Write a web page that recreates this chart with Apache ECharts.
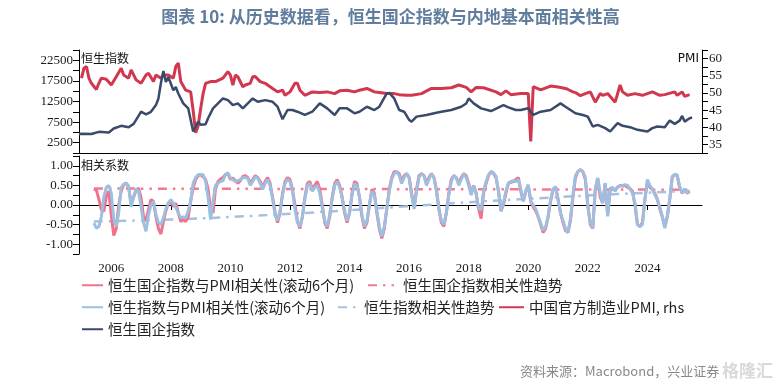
<!DOCTYPE html>
<html><head><meta charset="utf-8">
<script src="https://cdn.jsdelivr.net/npm/echarts@6/dist/echarts.min.js"></script>
<style>html,body{margin:0;padding:0;background:#fff}#c{width:781px;height:387px}</style>
</head><body><div id="c"></div>
<script>
// ---------- DATA ----------
const firstYear = 2004, firstMonthNum = 12, monthCount = 252; // 2004-12 .. 2025-11
const yearLabels = ['2006','2008','2010','2012','2014','2016','2018','2020','2022','2024'];

const hsceiMonths = ['2004-12','2005-01','2005-05','2005-08','2005-12','2006-02','2006-05','2006-08','2006-10','2006-12',
 '2007-01','2007-03','2007-05','2007-07','2007-08','2007-09','2007-10','2007-11','2007-12','2008-02',
 '2008-03','2008-04','2008-06','2008-08','2008-09','2008-10','2008-12','2009-01','2009-03','2009-04',
 '2009-06','2009-08','2009-10','2009-12','2010-02','2010-04','2010-06','2010-08','2010-10','2010-12',
 '2011-03','2011-06','2011-08','2011-10','2011-12','2012-02','2012-04','2012-07','2012-10','2013-01',
 '2013-04','2013-07','2013-09','2013-12','2014-03','2014-05','2014-08','2014-11','2015-01','2015-04',
 '2015-05','2015-07','2015-09','2015-11','2016-01','2016-02','2016-04','2016-08','2016-12','2017-02',
 '2017-06','2017-10','2017-12','2018-01','2018-03','2018-06','2018-10','2019-03','2019-05','2019-08',
 '2019-10','2020-01','2020-03','2020-06','2020-10','2021-02','2021-04','2021-06','2021-08','2021-11',
 '2022-01','2022-03','2022-05','2022-08','2022-10','2023-01','2023-03','2023-06','2023-09','2024-01',
 '2024-03','2024-05','2024-08','2024-10','2024-12','2025-02','2025-03','2025-04','2025-06','2025-07'];
const hsceiValues = [4600,4660,4600,5140,5000,5940,6590,6270,7070,9000,
 10020,9400,10000,11630,13240,17000,19880,17240,18440,15240,
 16030,14450,12040,10840,8030,5220,7620,6830,7000,8440,
 10840,12040,13240,12840,11630,12040,10840,12040,13240,12430,
 12840,12430,11230,8200,10430,10430,10020,9230,10020,12040,
 10840,9230,10840,10840,9630,10020,11230,10430,11230,14450,
 14600,13240,10430,10020,8030,7620,8830,9230,9790,10020,
 10430,11230,12000,13240,12040,10840,10190,11630,11080,10430,
 10430,10840,9230,10020,10430,12040,11230,10430,9630,9230,
 8830,6420,6830,6030,5220,7240,6590,6270,5630,5220,
 6030,6420,6270,7860,7070,7860,8990,7620,8440,8600];

const pmiMonths = ['2005-01','2005-02','2005-03','2005-04','2005-05','2005-07','2005-08','2005-09','2005-11','2006-01',
 '2006-03','2006-05','2006-06','2006-08','2006-09','2006-11','2007-01','2007-03','2007-04','2007-06',
 '2007-07','2007-09','2007-10','2007-12','2008-02','2008-03','2008-04','2008-05','2008-07','2008-09',
 '2008-10','2008-11','2008-12','2009-01','2009-02','2009-03','2009-05','2009-07','2009-10','2009-12',
 '2010-01','2010-02','2010-03','2010-04','2010-06','2010-07','2010-09','2010-10','2010-11','2011-01',
 '2011-03','2011-04','2011-06','2011-08','2011-10','2011-11','2012-01','2012-03','2012-04','2012-05',
 '2012-07','2012-10','2013-01','2013-04','2013-07','2013-09','2013-12','2014-03','2014-05','2014-08',
 '2014-11','2015-01','2015-04','2015-07','2015-09','2015-12','2016-02','2016-06','2016-10','2017-02',
 '2017-06','2017-09','2017-12','2018-02','2018-04','2018-07','2018-12','2019-02','2019-04','2019-06',
 '2019-10','2020-01','2020-02','2020-03','2020-06','2020-10','2021-01','2021-04','2021-05','2021-07',
 '2021-08','2021-10','2021-12','2022-02','2022-04','2022-06','2022-07','2022-09','2022-12','2023-01',
 '2023-02','2023-03','2023-05','2023-08','2023-11','2024-03','2024-06','2024-08','2024-12','2025-01',
 '2025-03','2025-04','2025-06'];
const pmiValues = [54.3,57.2,57.7,54.3,52.8,51.0,52.8,54.3,54.0,52.3,
 54.7,57.2,55.2,54.3,56.7,53.8,52.8,55.2,55.7,53.3,
 55.2,54.3,55.2,55.2,54.3,57.7,58.7,53.3,50.8,50.3,
 44.8,38.4,40.4,45.3,49.8,52.8,53.3,53.3,54.3,56.2,
 55.2,52.3,55.2,54.7,51.8,52.3,52.8,54.7,54.8,53.3,
 52.8,52.3,51.3,50.3,50.8,49.3,50.3,52.8,52.8,50.8,
 49.3,50.3,50.1,50.3,49.8,50.6,50.8,50.3,50.8,51.3,
 50.3,50.1,49.8,49.8,49.5,49.3,49.3,49.8,51.3,51.3,
 51.5,52.3,51.6,50.3,51.6,51.5,50.3,49.5,50.6,49.5,
 49.8,49.8,35.9,51.8,50.9,52.0,51.7,51.3,51.0,50.3,
 50.1,49.2,49.8,50.3,47.3,49.8,49.3,49.8,47.3,49.8,
 52.3,50.3,49.3,49.8,49.3,50.3,49.3,49.5,50.3,49.3,
 50.3,49.0,49.5];

// rolling 6-month correlations, monthly from corrStartMonth
const corrStartMonth = '2005-06';
const hsceiPmiCorr = [0.41,0.38,0.15,-0.12,-0.16,0.22,0.35,-0.25,-0.78,-0.6,
 0.0,0.35,0.52,0.56,0.45,0.05,0.2,0.38,0.43,0.18,
 -0.3,-0.4,-0.12,0.14,0.09,-0.3,-0.6,-0.74,-0.42,-0.15,
 0.05,0.09,-0.04,0.05,-0.2,-0.42,-0.37,-0.42,-0.3,0.1,
 0.45,0.65,0.75,0.77,0.72,0.65,0.41,-0.1,-0.2,0.41,
 0.6,0.66,0.7,0.78,0.8,0.65,0.69,0.62,0.56,0.62,
 0.73,
 0.75,0.7,0.55,0.65,0.75,0.7,0.6,0.45,0.6,0.7,
 0.55,0.2,-0.2,-0.45,-0.2,0.3,0.6,0.7,0.65,0.4,
 0.0,-0.4,-0.6,-0.3,0.2,0.55,0.6,0.4,0.5,0.6,
 0.4,0.0,-0.45,-0.6,-0.3,0.2,0.55,0.65,0.5,0.2,
 -0.2,-0.45,-0.2,0.3,0.6,0.55,0.2,-0.3,-0.6,-0.45,
 0.0,0.4,0.3,-0.2,-0.6,-0.85,-0.6,-0.1,0.4,0.7,
 0.85,0.85,0.8,0.6,0.75,0.8,0.7,0.3,-0.05,0.4,
 0.75,0.8,0.75,0.55,0.7,0.8,0.7,0.4,-0.1,-0.45,
 -0.55,-0.2,0.3,0.65,0.75,0.7,0.55,0.7,0.8,0.75,
 0.55,0.3,0.5,0.3,-0.1,
 -0.35,0.3,0.55,0.75,0.85,0.8,0.7,0.35,-0.15,0.0,
 0.3,0.55,0.58,0.6,0.65,0.7,0.35,0.1,0.35,0.5,
 0.1,-0.05,-0.15,-0.3,-0.5,-0.7,-0.6,-0.3,0.1,0.4,
 0.45,0.15,-0.2,-0.45,-0.65,-0.7,-0.4,0.2,0.7,0.85,
 0.9,0.85,0.65,0.0,-0.5,-0.6,0.4,0.68,0.2,0.05,
 0.55,-0.25,0.4,0.42,0.38,0.45,0.5,0.48,0.5,0.45,
 0.42,0.35,0.0,-0.5,-0.55,-0.45,0.15,0.6,0.45,0.4,
 0.3,0.15,-0.1,-0.3,-0.55,-0.3,0.15,0.7,0.78,0.75,
 0.45,0.3,0.4,0.3,0.35];
const hsiPmiCorr = [-0.46,-0.59,-0.55,-0.3,0.2,0.45,0.5,0.3,-0.35,-0.55,
 -0.2,0.45,0.52,0.56,0.48,-0.05,0.2,0.41,0.35,-0.05,
 -0.45,-0.67,-0.25,0.0,0.09,-0.25,-0.45,-0.5,-0.33,-0.1,
 0.05,0.14,0.05,-0.06,-0.2,-0.33,-0.3,-0.33,-0.15,0.1,
 0.56,0.7,0.77,0.78,0.77,0.6,0.2,-0.37,0.1,0.5,
 0.56,0.6,0.62,0.78,0.82,0.69,0.65,0.6,0.62,0.65,
 0.7,
 0.7,0.68,0.5,0.6,0.72,0.68,0.55,0.4,0.55,0.65,
 0.5,0.15,-0.25,-0.4,-0.15,0.25,0.55,0.65,0.6,0.35,
 -0.1,-0.45,-0.55,-0.3,0.15,0.5,0.55,0.35,0.45,0.5,
 0.3,-0.05,-0.4,-0.55,-0.25,0.15,0.5,0.6,0.45,0.2,
 -0.15,-0.4,-0.2,0.25,0.55,0.5,0.2,-0.25,-0.55,-0.4,
 0.0,0.35,0.25,-0.15,-0.55,-0.8,-0.55,-0.1,0.35,0.65,
 0.8,0.85,0.75,0.55,0.7,0.8,0.7,0.25,-0.1,0.35,
 0.7,0.8,0.75,0.5,0.65,0.8,0.7,0.35,-0.1,-0.4,
 -0.5,-0.2,0.25,0.6,0.75,0.7,0.5,0.65,0.8,0.7,
 0.5,0.25,0.5,0.3,-0.1,
 -0.12,0.35,0.6,0.77,0.86,0.82,0.73,0.35,-0.16,0.05,
 0.35,0.56,0.6,0.62,0.6,0.65,0.4,0.1,0.35,0.52,
 0.1,0.0,-0.1,-0.3,-0.45,-0.65,-0.55,-0.29,0.14,0.4,
 0.47,0.14,-0.2,-0.4,-0.6,-0.71,-0.35,0.25,0.75,0.85,
 0.9,0.85,0.7,-0.04,-0.45,-0.59,0.41,0.69,0.3,0.05,
 0.56,-0.29,0.43,0.45,0.35,0.47,0.48,0.5,0.52,0.5,
 0.41,0.3,0.05,-0.5,-0.55,-0.5,0.14,0.65,0.5,0.41,
 0.26,0.14,-0.05,-0.29,-0.59,-0.3,0.14,0.73,0.77,0.77,
 0.47,0.31,0.41,0.31,0.36];

const hsceiTrendMonths = ['2005-06','2025-07'];
const hsceiTrendValues = [0.42,0.39];
const hsiTrendMonths = ['2005-06','2008-01','2010-06','2013-01','2016-01','2018-06','2021-01','2023-01','2025-07'];
const hsiTrendValues = [-0.42,-0.37,-0.29,-0.18,-0.03,0.09,0.2,0.28,0.36];

const names = {
  hsceiCorr: '恒生国企指数与PMI相关性(滚动6个月)',
  hsceiTrend: '恒生国企指数相关性趋势',
  hsiCorr: '恒生指数与PMI相关性(滚动6个月)',
  hsiTrend: '恒生指数相关性趋势',
  pmi: '中国官方制造业PMI, rhs',
  hscei: '恒生国企指数'
};

// ---------- BUILD ----------
const cats = [];
for (let i = 0; i < monthCount; i++) {
  const n = firstYear * 12 + (firstMonthNum - 1) + i;
  cats.push(Math.floor(n / 12) + '-' + String(n % 12 + 1).padStart(2, '0'));
}
const pairs = (ms, vs) => ms.map((m, k) => [m, vs[k]]);
const corrStart = cats.indexOf(corrStartMonth);
const seq = vs => vs.map((v, k) => [cats[corrStart + k], v]);
const isYearTick = (idx, val) => {
  const v = typeof val === 'string' ? val : cats[idx];
  return v.slice(5) === '01' && yearLabels.includes(v.slice(0, 4));
};

const serif = '"Liberation Serif", "Times New Roman", serif';
const cjk = '"Noto Sans CJK SC"';
const black = '#1a1a1a';

const chart = echarts.init(document.getElementById('c'), null, {renderer: 'canvas'});
const baseX = {
  type: 'category', data: cats, boundaryGap: false,
  axisLine: {show: true, lineStyle: {color: '#000', width: 1}},
  splitLine: {show: false}
};
const legendBase = {
  selectedMode: false, itemHeight: 10, itemGap: 0,
  itemStyle: {opacity: 0},
  textStyle: {fontFamily: cjk, fontSize: 14.5, color: '#222'}
};
chart.setOption({
  animation: false,
  backgroundColor: '#fff',
  title: {
    text: '图表 10: 从历史数据看，恒生国企指数与内地基本面相关性高',
    left: 'center', top: 3,
    textStyle: {fontFamily: cjk, fontSize: 17, fontWeight: 'bold', color: '#5f7d9c'}
  },
  grid: [
    {left: 79, right: 79, top: 50, height: 103},
    {left: 79, right: 79, top: 156, height: 98}
  ],
  xAxis: [
    Object.assign({}, baseX, {gridIndex: 0, axisTick: {show: false}, axisLabel: {show: false}}),
    Object.assign({}, baseX, {gridIndex: 1,
      axisTick: {show: true, interval: isYearTick, length: 5, lineStyle: {color: '#000'}},
      axisLabel: {interval: isYearTick, formatter: v => v.slice(0, 4), margin: 8,
        fontFamily: serif, fontSize: 13, color: black}})
  ],
  yAxis: [
    {gridIndex: 0, type: 'value', position: 'left', min: 0, max: 25000, interval: 2500,
      axisLine: {show: true, lineStyle: {color: '#000'}},
      axisTick: {show: true, length: 6, lineStyle: {color: '#000'}},
      splitLine: {show: false},
      axisLabel: {margin: 6, fontFamily: serif, fontSize: 13, color: black,
        formatter: v => (Math.round(v / 2500) % 2 === 1) ? String(v) : ''}},
    {gridIndex: 0, type: 'value', position: 'right', min: 32.5, max: 62.5, interval: 2.5,
      axisLine: {show: true, lineStyle: {color: '#000'}},
      axisTick: {show: true, length: 6, lineStyle: {color: '#000'}},
      splitLine: {show: false},
      axisLabel: {margin: 7, fontFamily: serif, fontSize: 13, color: black,
        formatter: v => (Math.round(v * 2) % 10 === 0 && v >= 35 && v <= 60) ? String(Math.round(v)) : ''}},
    {gridIndex: 1, type: 'value', position: 'left', min: -1.25, max: 1.25, interval: 0.25,
      axisLine: {show: true, lineStyle: {color: '#000'}},
      axisTick: {show: true, length: 6, lineStyle: {color: '#000'}},
      splitLine: {show: false},
      axisLabel: {margin: 6, fontFamily: serif, fontSize: 13, color: black,
        formatter: v => (Math.abs(Math.round(v * 4)) % 2 === 0 && Math.abs(v) <= 1.0001) ? v.toFixed(2) : ''}}
  ],
  legend: [
    Object.assign({}, legendBase, {data: [names.hsceiCorr], left: 76, top: 273, itemWidth: 21}),
    Object.assign({}, legendBase, {data: [names.hsceiTrend], left: 362, top: 273, itemWidth: 30}),
    Object.assign({}, legendBase, {data: [names.hsiCorr], left: 76, top: 295, itemWidth: 21}),
    Object.assign({}, legendBase, {data: [names.hsiTrend], left: 332, top: 295, itemWidth: 21}),
    Object.assign({}, legendBase, {data: [names.pmi], left: 493, top: 295, itemWidth: 25}),
    Object.assign({}, legendBase, {data: [names.hscei], left: 76, top: 317, itemWidth: 21})
  ],
  graphic: [
    {type: 'text', left: 81, top: 52, style: {text: '恒生指数', font: '12px "Noto Sans CJK SC"', fill: '#111'}},
    {type: 'text', right: 82, top: 53, style: {text: 'PMI', font: '12px "DejaVu Sans"', fill: '#111'}},
    {type: 'text', left: 81, top: 159, style: {text: '相关系数', font: '12px "Noto Sans CJK SC"', fill: '#111'}},
    {type: 'text', left: 520, top: 365, style: {text: '资料来源：Macrobond，兴业证券', font: '13px "Noto Sans CJK SC"', fill: '#888'}},
    {type: 'text', left: 722, top: 362, style: {text: '格隆汇', font: 'bold 17px "Noto Sans CJK SC"', fill: 'rgba(170,170,170,0.45)'}}
  ],
  series: [
    {name: names.pmi, type: 'line', xAxisIndex: 0, yAxisIndex: 1, data: pairs(pmiMonths, pmiValues),
      symbol: 'none', color: '#d1374f', lineStyle: {width: 3, color: '#d1374f'}, z: 2},
    {name: names.hscei, type: 'line', xAxisIndex: 0, yAxisIndex: 0, data: pairs(hsceiMonths, hsceiValues),
      symbol: 'none', color: '#3a4a6a', lineStyle: {width: 2.5, color: '#3a4a6a'}, z: 3},
    {name: names.hsceiTrend, type: 'line', xAxisIndex: 1, yAxisIndex: 2, data: pairs(hsceiTrendMonths, hsceiTrendValues),
      symbol: 'none', color: '#f27a92', lineStyle: {width: 2.5, color: '#f27a92', type: [9, 6, 2.5, 6, 2.5, 6]}, z: 2},
    {name: names.hsiTrend, type: 'line', xAxisIndex: 1, yAxisIndex: 2, data: pairs(hsiTrendMonths, hsiTrendValues), smooth: true,
      symbol: 'none', color: '#a4c2df', lineStyle: {width: 2.5, color: '#a4c2df', type: [9, 6, 2.5, 6]}, z: 2},
    {name: names.hsceiCorr, type: 'line', xAxisIndex: 1, yAxisIndex: 2, data: seq(hsceiPmiCorr),
      symbol: 'none', color: '#f2728c', lineStyle: {width: 3, color: '#f2728c'}, z: 3},
    {name: names.hsiCorr, type: 'line', xAxisIndex: 1, yAxisIndex: 2, data: seq(hsiPmiCorr),
      symbol: 'none', color: '#9dbfe0', lineStyle: {width: 3, color: '#9dbfe0'}, z: 4}
  ]
});
</script></body></html>
